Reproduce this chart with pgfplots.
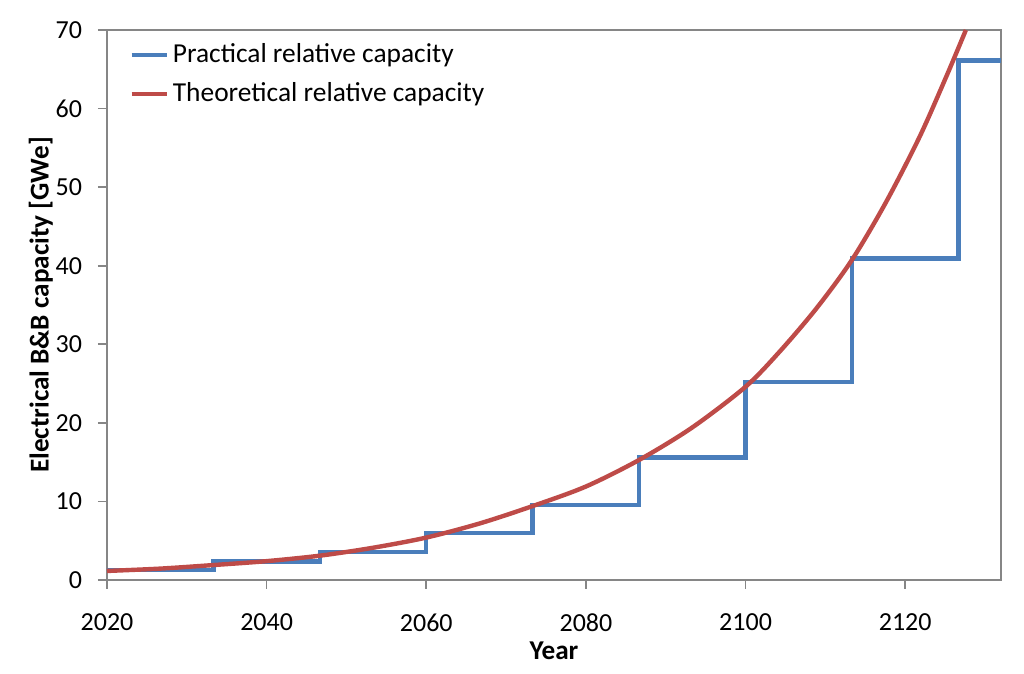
\documentclass[border=0pt]{standalone}
\usepackage{fontspec}
\setmainfont{Carlito}
\usepackage{pgfplots}
\pgfplotsset{compat=1.18}

\definecolor{xlblue}{HTML}{4A7EBB}
\definecolor{xlred}{HTML}{BE4B48}
\definecolor{xlgray}{HTML}{868686}

\begin{document}
\begin{tikzpicture}
  \begin{axis}[
      scale only axis,
      width=447pt, height=275pt,
      xmin=2020, xmax=2132,
      ymin=0, ymax=70,
      xtick={2020,2040,...,2120},
      ytick={0,10,...,70},
      axis line style={xlgray, line width=0.8pt},
      tick style={xlgray, line width=0.8pt},
      tick align=outside,
      major tick length=4.5pt,
      xtick pos=bottom, ytick pos=left,
      /pgf/number format/1000 sep={},
      /pgf/number format/assume math mode=true,
      tick label style={font=\fontsize{13}{15}\selectfont},
      xticklabel style={yshift=-9pt},
      yticklabel style={xshift=-4.5pt},
      xlabel={\textbf{Year}},
      ylabel={\textbf{Electrical B\&B capacity [GWe]}},
      label style={font=\fontsize{13.6}{15}\selectfont},
      xlabel style={yshift=2pt},
      ylabel style={yshift=-5.5pt},
      legend style={draw=none, fill=none, at={(0.018,0.99)}, anchor=north west,
        font=\fontsize{13.7}{16}\selectfont, row sep=4.5pt,
        cells={anchor=west}},
      legend image code/.code={\draw[#1] (0pt,0pt) -- (17.5pt,0pt);},
    ]
    % practical capacity, steps every 13.3 years
    \addplot[const plot, xlblue, line width=2.2pt, mark=none] coordinates {
      (2020,1.3) (2033.33,2.35) (2046.67,3.55) (2060,5.95)
      (2073.33,9.55) (2086.67,15.6) (2100,25.2) (2113.33,40.9)
      (2126.67,66.1) (2132,66.1)
    };
    \addlegendentry{Practical relative capacity}

    % theoretical capacity
    \addplot[xlred, line width=2.2pt, mark=none, smooth] coordinates {
      (2020,1.15) (2026.7,1.45) (2033.3,1.9) (2040,2.4) (2046.7,3.1)
      (2053.3,4.1) (2060,5.4) (2066.7,7.2) (2073.3,9.4) (2080,11.9)
      (2086.7,15.3) (2093.3,19.4) (2100,24.6) (2104.3,29.1) (2108.9,34.6)
      (2113.3,40.7) (2117.6,48.1) (2121.8,56.4) (2125.2,64.2) (2127.6,70)
    };
    \addlegendentry{Theoretical relative capacity}
  \end{axis}
  \path ([xshift=-53.5pt,yshift=-47pt]current axis.south west)
    rectangle ([xshift=11.5pt,yshift=15pt]current axis.north east);
\end{tikzpicture}
\end{document}
